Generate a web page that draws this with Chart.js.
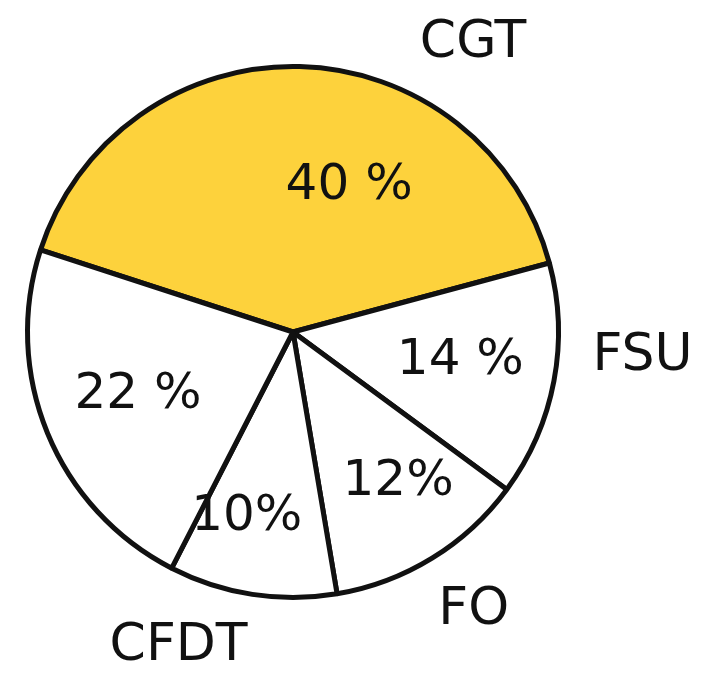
<!DOCTYPE html>
<html>
<head>
<meta charset="utf-8">
<script src="https://cdn.jsdelivr.net/npm/chart.js@4/dist/chart.umd.min.js"></script>
<style>
html,body{margin:0;padding:0;background:#fff;}
#wrap{width:705px;height:690px;position:relative;}
</style>
</head>
<body>
<div id="wrap"><canvas id="c" width="705" height="690"></canvas></div>
<script>
const categories = ["CGT", "FSU", "FO", "CFDT", ""];
const values = [40, 14, 12, 10, 22];
const valueLabels = ["40 %", "14 %", "12%", "10%", "22 %"];
const sliceColors = ["#FDD23C", "#FFFFFF", "#FFFFFF", "#FFFFFF", "#FFFFFF"];

// placement of the hand-written names around the pie (angle in degrees, distance as fraction of radius)
const namePlacement = [
  {a: -58, r: 1.28},
  {a: 4, r: 1.32},
  {a: 57, r: 1.25},
  {a: 110, r: 1.26},
  {a: 180, r: 1.3}
];
const valuePlacement = [
  {a: -69, r: 0.59},
  {a: 10, r: 0.64},
  {a: 55, r: 0.69},
  {a: 104, r: 0.72},
  {a: 158, r: 0.63}
];

const labelPlugin = {
  id: 'handLabels',
  afterDatasetsDraw(chart) {
    const ctx = chart.ctx;
    const meta = chart.getDatasetMeta(0);
    const arc0 = meta.data[0];
    const cx = arc0.x, cy = arc0.y, R = arc0.outerRadius;
    ctx.save();
    ctx.fillStyle = '#111';
    ctx.textAlign = 'center';
    ctx.textBaseline = 'middle';
    ctx.font = '50px "DejaVu Sans"';
    meta.data.forEach((arc, i) => {
      const p = valuePlacement[i];
      const ang = p.a * Math.PI / 180;
      ctx.fillText(valueLabels[i], cx + Math.cos(ang) * R * p.r, cy + Math.sin(ang) * R * p.r);
    });
    ctx.font = '52px "DejaVu Sans"';
    categories.forEach((name, i) => {
      if (!name) return;
      const p = namePlacement[i];
      const ang = p.a * Math.PI / 180;
      ctx.fillText(name, cx + Math.cos(ang) * R * p.r, cy + Math.sin(ang) * R * p.r);
    });
    ctx.restore();
  }
};

new Chart(document.getElementById('c'), {
  type: 'pie',
  data: {
    labels: categories,
    datasets: [{
      data: values,
      backgroundColor: sliceColors,
      borderColor: '#111',
      borderWidth: 5
    }]
  },
  options: {
    responsive: false,
    animation: false,
    rotation: 288,
    layout: {padding: {left: 25, right: 144, top: 64, bottom: 90}},
    plugins: {legend: {display: false}, tooltip: {enabled: false}}
  },
  plugins: [labelPlugin]
});
</script>
</body>
</html>
